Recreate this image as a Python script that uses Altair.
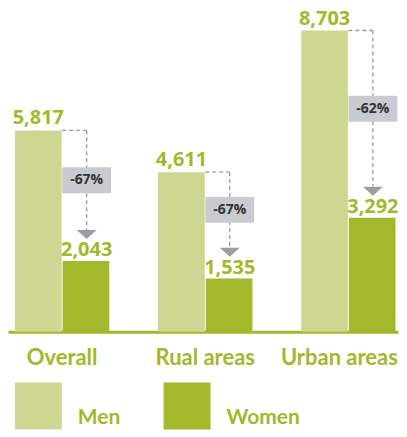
import altair as alt
import pandas as pd

categories = ["Overall", "Rual areas", "Urban areas"]
men = [5817, 4611, 8703]
women = [2043, 1535, 3292]
change = ["-67%", "-67%", "-62%"]
series = ["Men", "Women"]
colors = ["#cdd792", "#a3b82a"]

GREEN = "#a3b82a"
NUM_FONT = "Open Sans"
LABEL_FONT = "Lato"
DASH_COLOR = "#9b9b9b"
BOX_COLOR = "#c8cbd0"
ARROW_COLOR = "#9a9ea3"
BP = 0.76

long = pd.DataFrame({
    "cat": categories * 2,
    "sex": ["Men"] * len(categories) + ["Women"] * len(categories),
    "value": men + women,
})
wide = pd.DataFrame({"cat": categories, "men": men, "women": women, "change": change})

x_scale = alt.Scale(paddingInner=0.341, paddingOuter=0.0331, align=0.737)
y_scale = alt.Scale(domain=[0, 9280], nice=False, zero=True)
x_axis = alt.Axis(
    title=None, labelAngle=0, ticks=False, tickSize=0, domainColor=GREEN, domainWidth=3,
    labelFontSize=22, labelFontWeight="bold", labelColor=GREEN, labelFont=LABEL_FONT,
    labelPadding=16, grid=False,
    labelOffset={"condition": {"test": "datum.value === 'Urban areas'", "value": -9}, "value": 0},
)


def Xf(bp=None):
    if bp is None:
        return alt.X("cat:N", sort=categories, scale=x_scale, axis=x_axis, title=None)
    return alt.X("cat:N", sort=categories, scale=x_scale, axis=x_axis, title=None, bandPosition=bp)


def Yf(field):
    return alt.Y(field, scale=y_scale, axis=None)


xoff = alt.XOffset("sex:N", sort=series, scale=alt.Scale(paddingInner=0.02))

bars = alt.Chart(long).mark_bar().encode(
    x=Xf(),
    xOffset=xoff,
    y=Yf("value:Q"),
    color=alt.Color(
        "sex:N",
        scale=alt.Scale(domain=series, range=colors),
        legend=alt.Legend(
            title=None, orient="none", legendX=7, legendY=373, direction="horizontal",
            symbolType="square", symbolSize=2209, symbolStrokeWidth=0, symbolOpacity=1,
            labelFontSize=21, labelFontWeight="bold", labelColor=GREEN, labelFont=LABEL_FONT,
            labelOffset=16, labelBaseline="line-top",
            columnPadding=43, padding=0, offset=0, rowPadding=0,
        ),
    ),
)

men_labels = alt.Chart(long).transform_filter(alt.datum.sex == "Men").mark_text(
    dy=-6, baseline="alphabetic", fontSize=20, fontWeight="bold", color=GREEN, font=NUM_FONT
).encode(
    x=Xf(), xOffset=xoff, y=Yf("value:Q"), text=alt.Text("value:Q", format=",")
)

women_labels = alt.Chart(wide).mark_text(
    dy=-5, baseline="alphabetic", fontSize=20, fontWeight="bold", color=GREEN, font=NUM_FONT
).encode(
    x=Xf(BP), y=Yf("women:Q"), text=alt.Text("women:Q", format=",")
)

hline = alt.Chart(wide).mark_rule(strokeDash=[4, 3], color=DASH_COLOR, strokeWidth=1.3).encode(
    x=Xf(0.5), x2=alt.X2("cat:N", bandPosition=BP), y=Yf("men:Q")
)

vline = alt.Chart(wide).mark_rule(
    strokeDash=[4, 3], color=DASH_COLOR, strokeWidth=1.3, y2Offset=-31
).encode(
    x=Xf(BP), y=Yf("men:Q"), y2="women:Q"
)

arrows = alt.Chart(wide).mark_point(
    shape="M-1,-0.45L1,-0.45L0,0.45Z", size=400, filled=True, color=ARROW_COLOR,
    opacity=1, strokeWidth=0, yOffset=-26.5
).encode(x=Xf(BP), y=Yf("women:Q"))

boxes = alt.Chart(wide).transform_calculate(
    mid="(datum.men + datum.women) / 2"
).mark_point(
    shape="M-1,-0.53L1,-0.53L1,0.53L-1,0.53Z", size=2401, filled=True, color=BOX_COLOR,
    opacity=1, strokeWidth=0, yOffset=-15.5
).encode(x=Xf(BP), y=Yf("mid:Q"))

box_text = alt.Chart(wide).transform_calculate(
    mid="(datum.men + datum.women) / 2"
).mark_text(
    fontSize=14, fontWeight="bold", color="#333333", baseline="middle", font=NUM_FONT, yOffset=-15.5
).encode(x=Xf(BP), y=Yf("mid:Q"), text="change:N")

chart = alt.layer(
    bars, hline, vline, arrows, boxes, box_text, men_labels, women_labels
).properties(
    width=391, height=322, padding={"left": 0, "top": 0, "right": 0, "bottom": 0}
).configure(font=NUM_FONT).configure_view(stroke=None)

chart.save("out.html", embed_options={"renderer": "svg", "actions": False})
